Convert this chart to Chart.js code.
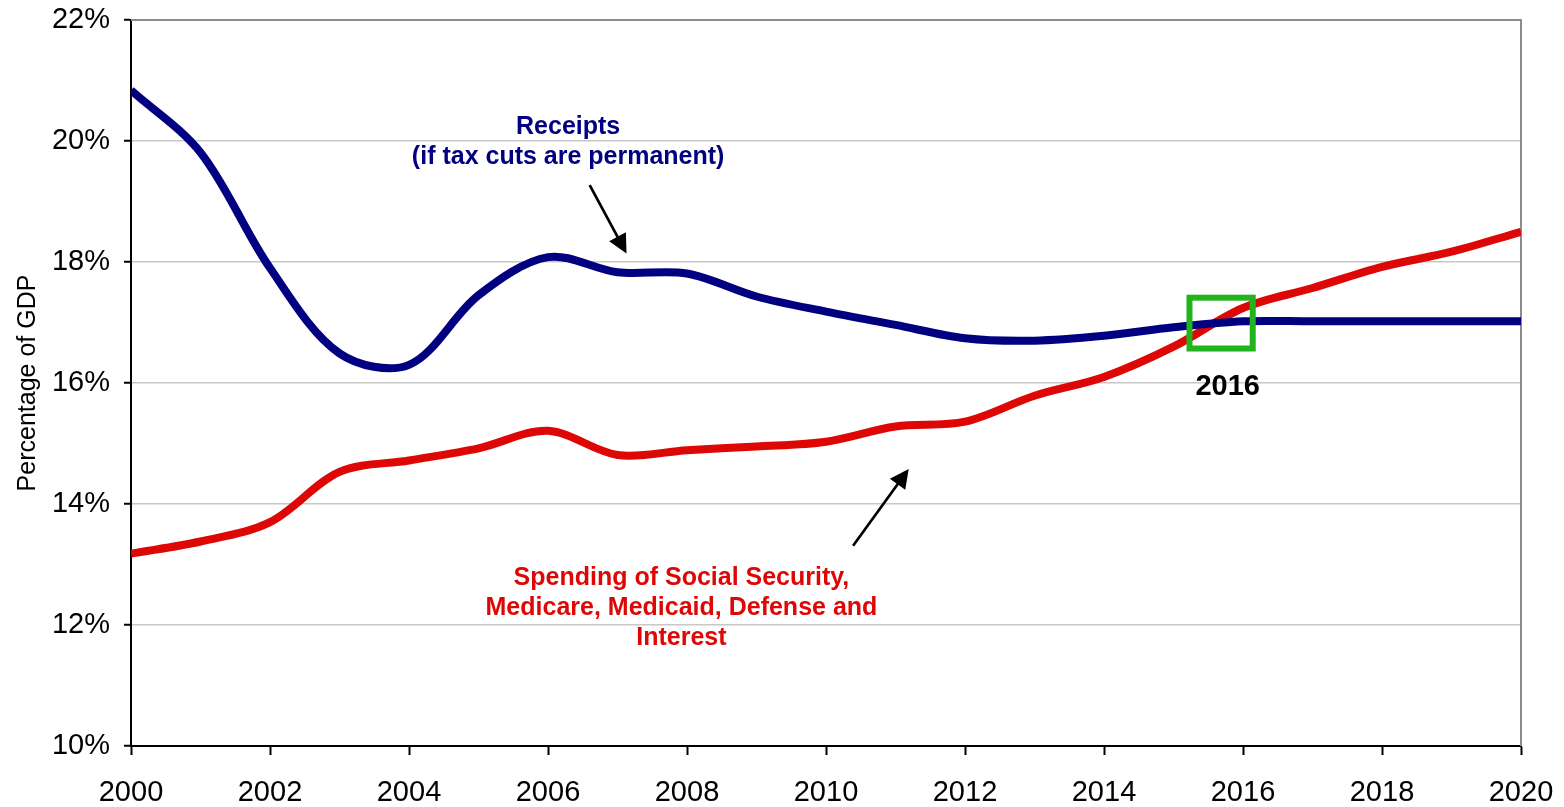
<!DOCTYPE html>
<html><head><meta charset="utf-8">
<script src="https://cdn.jsdelivr.net/npm/chart.js@4.4.0/dist/chart.umd.min.js"></script>
<style>html,body{margin:0;padding:0;background:#fff;overflow:hidden}canvas{display:block}</style>
</head><body>
<canvas id="c" width="1564" height="807"></canvas>
<script>
// ---- data ----
const years = [2000,2001,2002,2003,2004,2005,2006,2007,2008,2009,2010,2011,2012,2013,2014,2015,2016,2017,2018,2019,2020];
const receipts = [20.84,19.81,17.90,16.49,16.30,17.45,18.08,17.83,17.81,17.43,17.18,16.96,16.74,16.70,16.78,16.92,17.02,17.02,17.02,17.02,17.02];
const spending = [13.18,13.38,13.70,14.53,14.72,14.92,15.21,14.81,14.89,14.95,15.03,15.28,15.36,15.79,16.10,16.60,17.24,17.57,17.92,18.17,18.50];
const yTicks = [10,12,14,16,18,20,22];
const xTicks = [2000,2002,2004,2006,2008,2010,2012,2014,2016,2018,2020];
const yTitle = 'Percentage of GDP';
const receiptsLabel = ['Receipts', '(if tax cuts are permanent)'];
const spendingLabel = ['Spending of Social Security,', 'Medicare, Medicaid, Defense and', 'Interest'];
const crossLabel = '2016';

const BLUE = '#000080', RED = '#dd0806', GREEN = '#22b41e';
const FONT = "'Liberation Sans', Arial, Helvetica, sans-serif";

function arrow(ctx, x0, y0, x1, y1) {
  const ang = Math.atan2(y1 - y0, x1 - x0);
  const L = 19, W = 9.5;
  ctx.strokeStyle = '#000'; ctx.fillStyle = '#000'; ctx.lineWidth = 2.7;
  ctx.beginPath(); ctx.moveTo(x0, y0);
  ctx.lineTo(x1 - Math.cos(ang) * L * 0.8, y1 - Math.sin(ang) * L * 0.8); ctx.stroke();
  ctx.beginPath();
  ctx.moveTo(x1, y1);
  ctx.lineTo(x1 - L * Math.cos(ang) + W * Math.sin(ang), y1 - L * Math.sin(ang) - W * Math.cos(ang));
  ctx.lineTo(x1 - L * Math.cos(ang) - W * Math.sin(ang), y1 - L * Math.sin(ang) + W * Math.cos(ang));
  ctx.closePath(); ctx.fill();
}

const framePlugin = {
  id: 'frame',
  beforeDatasetsDraw(chart) {
    const {ctx, chartArea: a} = chart;
    ctx.save();
    ctx.strokeStyle = '#8c8c8c'; ctx.lineWidth = 2;
    ctx.beginPath(); ctx.moveTo(a.left, a.top); ctx.lineTo(a.right, a.top); ctx.lineTo(a.right, a.bottom); ctx.stroke();
    ctx.restore();
  }
};

const annotPlugin = {
  id: 'annot',
  afterDatasetsDraw(chart) {
    const {ctx, scales: {x, y}} = chart;
    ctx.save();
    ctx.textAlign = 'center'; ctx.textBaseline = 'middle';
    ctx.font = 'bold 25px ' + FONT; ctx.fillStyle = BLUE;
    ctx.fillText(receiptsLabel[0], x.getPixelForValue(2006.29), y.getPixelForValue(20.23));
    ctx.fillText(receiptsLabel[1], x.getPixelForValue(2006.29), y.getPixelForValue(19.74));
    ctx.fillStyle = RED;
    const sy = [12.78, 12.28, 11.79];
    spendingLabel.forEach((t, i) => ctx.fillText(t, x.getPixelForValue(2007.92), y.getPixelForValue(sy[i])));
    ctx.font = 'bold 29px ' + FONT; ctx.fillStyle = '#000';
    ctx.fillText(crossLabel, x.getPixelForValue(2015.78), y.getPixelForValue(15.93));
    arrow(ctx, x.getPixelForValue(2006.60), y.getPixelForValue(19.27), x.getPixelForValue(2007.13), y.getPixelForValue(18.14));
    arrow(ctx, x.getPixelForValue(2010.39), y.getPixelForValue(13.31), x.getPixelForValue(2011.19), y.getPixelForValue(14.58));
    const bx0 = x.getPixelForValue(2015.23), bx1 = x.getPixelForValue(2016.14);
    const by0 = y.getPixelForValue(17.41), by1 = y.getPixelForValue(16.57);
    ctx.strokeStyle = GREEN; ctx.lineWidth = 6;
    ctx.strokeRect(bx0, by0, bx1 - bx0, by1 - by0);
    ctx.restore();
  }
};

const zeroPad = s => { s.paddingTop = 0; s.paddingBottom = 0; s.paddingLeft = 0; s.paddingRight = 0; };
const toPts = vals => years.map((yr, i) => ({x: yr, y: vals[i]}));

new Chart(document.getElementById('c'), {
  type: 'line',
  data: {
    datasets: [
      {label: 'Receipts', data: toPts(receipts), borderColor: BLUE, borderWidth: 8, pointRadius: 0, tension: 0.33, fill: false, borderJoinStyle: 'round'},
      {label: 'Spending', data: toPts(spending), borderColor: RED, borderWidth: 8, pointRadius: 0, tension: 0.33, fill: false, borderJoinStyle: 'round'}
    ]
  },
  options: {
    responsive: false,
    animation: false,
    devicePixelRatio: 1,
    layout: {padding: {left: 0, top: 20, right: 43, bottom: 0}},
    plugins: {legend: {display: false}, tooltip: {enabled: false}},
    scales: {
      x: {
        type: 'linear', min: 2000, max: 2020,
        afterBuildTicks: s => { s.ticks = xTicks.map(v => ({value: v})); },
        afterFit: s => { s.height = 61; zeroPad(s); },
        ticks: {font: {family: FONT, size: 29}, color: '#000', padding: 21, maxRotation: 0, autoSkip: false, callback: v => String(v)},
        grid: {drawOnChartArea: false, drawTicks: true, tickLength: 9, tickColor: '#000', tickWidth: 2},
        border: {color: '#000', width: 2}
      },
      y: {
        min: 10, max: 22,
        afterBuildTicks: s => { s.ticks = yTicks.map(v => ({value: v})); },
        afterFit: s => { s.width = 131; zeroPad(s); },
        ticks: {font: {family: FONT, size: 29}, color: '#000', padding: 14, callback: v => v + '%'},
        grid: {color: '#c8c8c8', lineWidth: 1.5, drawTicks: true, tickLength: 7, tickColor: '#000', tickWidth: 2},
        border: {color: '#000', width: 2},
        title: {display: true, text: yTitle, font: {family: FONT, size: 25}, color: '#000', padding: {top: 13, bottom: 0}}
      }
    }
  },
  plugins: [framePlugin, annotPlugin]
});
</script>
</body></html>
